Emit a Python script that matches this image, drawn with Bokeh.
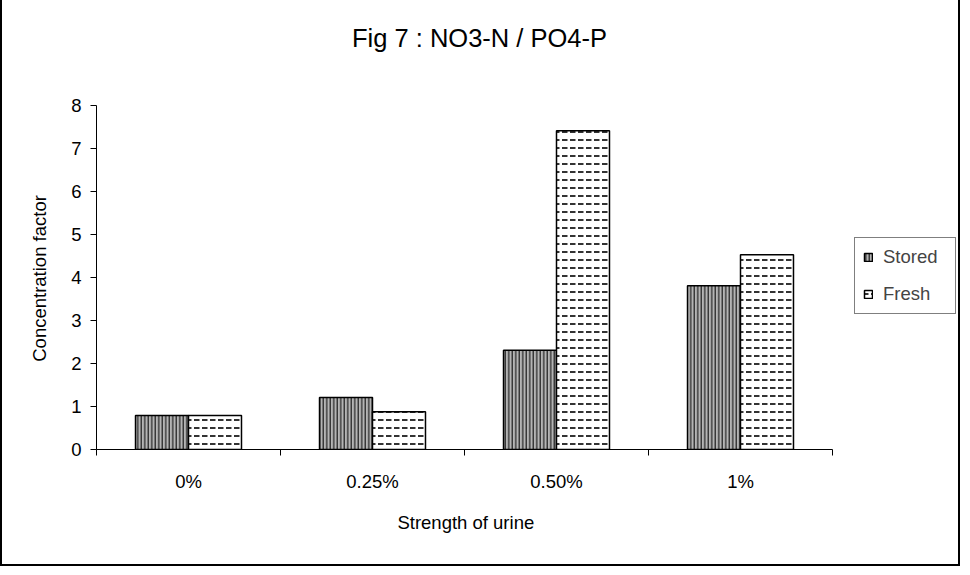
from bokeh.plotting import figure
from bokeh.models import Range1d, FixedTicker, Legend, LegendItem, ColumnDataSource, Label
from bokeh.embed import file_html
from bokeh.resources import INLINE

categories = ["0%", "0.25%", "0.50%", "1%"]
stored = [0.79, 1.21, 2.31, 3.81]
fresh = [0.79, 0.88, 7.41, 4.53]
y_ticks = [0, 1, 2, 3, 4, 5, 6, 7, 8]
y_max = 8
title_text = "Fig 7 : NO3-N / PO4-P"
x_label = "Strength of urine"
y_label = "Concentration factor"

FONT = "Liberation Sans"
BAR_W = 0.288
NBSP = "\u00a0"

# plot-area geometry (pixels): the axes occupy the lower-left part of a larger frame
AX_W, AX_H = 736, 344
FRAME_W, FRAME_H = 862, 450

n = len(categories)
centers = [i + 0.5 for i in range(n)]
src_s = ColumnDataSource(dict(x=[c - BAR_W / 2 for c in centers], top=stored))
src_f = ColumnDataSource(dict(x=[c + BAR_W / 2 for c in centers], top=fresh))

p = figure(frame_width=FRAME_W, frame_height=FRAME_H, output_backend="svg", toolbar_location=None,
           x_range=Range1d(0, n * FRAME_W / AX_W), y_range=Range1d(0, y_max * FRAME_H / AX_H),
           min_border_left=94, min_border_right=0, min_border_top=0, min_border_bottom=115)
p.styles = {"border": "2px solid black", "margin-top": "-3px"}
p.outline_line_color = None
p.xgrid.grid_line_color = None
p.ygrid.grid_line_color = None
p.background_fill_color = "white"
p.border_fill_color = "white"

rs = p.vbar(x="x", top="top", bottom=0, width=BAR_W, source=src_s,
            fill_color="#b4b4b4", line_color="black", line_width=1.5,
            hatch_pattern="vertical_line", hatch_color="black", hatch_weight=1, hatch_scale=3.5)
rf = p.vbar(x="x", top="top", bottom=0, width=BAR_W, source=src_f,
            fill_color="white", line_color="black", line_width=1.5,
            hatch_pattern="horizontal_dash", hatch_color="#333333", hatch_weight=2, hatch_scale=8)

# x axis: labels at category centres, tick marks at category boundaries
xa = p.xaxis[0]
xa.bounds = (0, n)
xa.ticker = FixedTicker(ticks=centers, minor_ticks=list(range(n + 1)))
xa.major_label_overrides = {c: lab for c, lab in zip(centers, categories)}
xa.major_tick_out = 0
xa.major_tick_in = 0
xa.minor_tick_out = 6
xa.minor_tick_in = 0
xa.minor_tick_line_color = "black"
xa.axis_line_color = "black"
xa.major_label_standoff = 15
xa.major_label_text_font = FONT
xa.major_label_text_font_size = "18.5px"
xa.major_label_text_color = "black"
# trailing no-break spaces keep the label centred under the 0-4 part of the wider frame
xa.axis_label = x_label + NBSP * 24
xa.axis_label_text_font = FONT
xa.axis_label_text_font_size = "18.5px"
xa.axis_label_text_font_style = "normal"
xa.axis_label_text_color = "black"
xa.axis_label_standoff = 17

ya = p.yaxis[0]
ya.bounds = (0, y_max)
ya.ticker = FixedTicker(ticks=y_ticks)
ya.major_tick_out = 6
ya.major_tick_in = 0
ya.minor_tick_line_color = None
ya.axis_line_color = "black"
ya.major_tick_line_color = "black"
ya.major_label_standoff = 9
ya.major_label_text_font = FONT
ya.major_label_text_font_size = "18.5px"
ya.major_label_text_color = "black"
ya.axis_label = y_label + NBSP * 21
ya.axis_label_text_font = FONT
ya.axis_label_text_font_size = "18.5px"
ya.axis_label_text_font_style = "normal"
ya.axis_label_text_color = "black"
ya.axis_label_standoff = 18

p.add_layout(Label(x=383, y=412, x_units="screen", y_units="screen", text=title_text,
                   text_align="center", text_baseline="middle",
                   text_font=FONT, text_font_size="25.5px", text_color="black"))

legend = Legend(items=[LegendItem(label="Stored", renderers=[rs]),
                       LegendItem(label="Fresh", renderers=[rf])],
                location=(758, 135), orientation="vertical", margin=0,
                label_text_font=FONT, label_text_font_size="18.5px",
                glyph_width=10, glyph_height=10, label_standoff=10,
                spacing=15, padding=8, label_height=21, label_width=64,
                border_line_color="black", border_line_width=1,
                background_fill_color="white", background_fill_alpha=1)
p.add_layout(legend, "center")

open("out.html", "w").write(file_html(p, INLINE))
